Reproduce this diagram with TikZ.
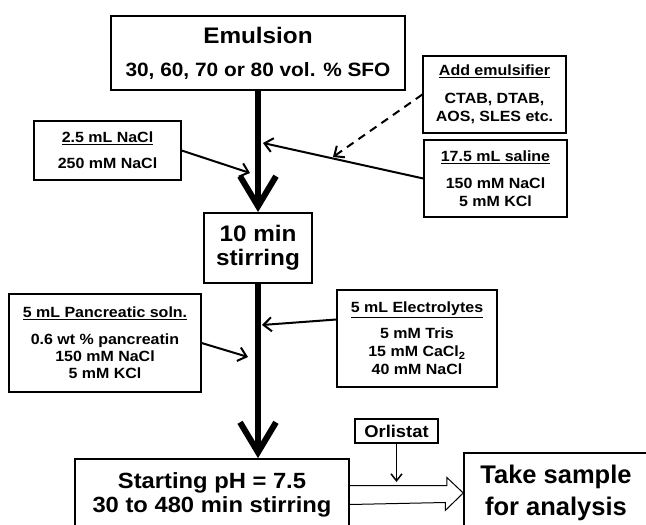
\documentclass[tikz,border=0pt]{standalone}
\usepackage{fontspec}
\setmainfont{Liberation Sans}[FakeStretch=1.08]
\newfontfamily\takefont{Liberation Sans}
\usetikzlibrary{arrows.meta}
\newcommand\smallsz{\fontsize{14.8}{18}\selectfont}

\begin{document}
\begin{tikzpicture}[x=1pt, y=-1pt,
        box/.style={draw, line width=1.3pt, align=center, inner sep=0pt, font=\smallsz\bfseries},
        bigbox/.style={draw, line width=2pt, align=center, inner sep=0pt},
        mainflow/.style={line width=6pt, -{Straight Barb[length=30pt, width=36pt]}},
        feed/.style={line width=2pt, -{Straight Barb[length=8pt, width=14pt]}}
    ]
    \useasboundingbox (0,0) rectangle (646,525);
    \clip (0,0) rectangle (646,525);

    % Các hộp
    \node[bigbox, minimum width=294pt, minimum height=74pt, font=\fontsize{19.3}{24}\selectfont\bfseries] (emul) at (258,53)
        {{\fontsize{22.5}{26}\selectfont Emulsion}\\[9pt]30, 60, 70 or 80 vol. \% SFO};
    \node[box, minimum width=147pt, minimum height=59pt] (nacl) at (107.5,150.5)
        {\underline{2.5 mL NaCl}\\[8pt]250 mM NaCl};
    \node[box, minimum width=143pt, minimum height=77pt] (emsf) at (494.5,94.5)
        {\underline{Add emulsifier}\\[10pt]CTAB, DTAB,\\AOS, SLES etc.};
    \node[box, minimum width=143pt, minimum height=77pt] (saline) at (495.5,178.5)
        {\underline{17.5 mL saline}\\[9pt]150 mM NaCl\\5 mM KCl};
    \node[bigbox, minimum width=108pt, minimum height=70pt, font=\fontsize{22.5}{24}\selectfont\bfseries] (stir) at (258,248)
        {10 min\\stirring};
    \node[box, minimum width=192pt, minimum height=98pt, font=\fontsize{14.8}{17}\selectfont\bfseries] (panc) at (105,343)
        {\underline{5 mL Pancreatic soln.}\\[10pt]0.6 wt \% pancreatin\\150 mM NaCl\\5 mM KCl};
    \node[box, minimum width=160pt, minimum height=97pt] (elec) at (417,338.5)
        {\underline{5 mL Electrolytes}\\[8pt]5 mM Tris\\15 mM CaCl\textsubscript{2}\\40 mM NaCl};
    \node[box, minimum width=83pt, minimum height=24pt, font=\fontsize{17}{20}\selectfont\bfseries] (orli) at (396.5,431)
        {Orlistat};
    \node[bigbox, line width=1.7pt, minimum width=274pt, minimum height=72pt, font=\fontsize{22}{24}\selectfont\bfseries] (start) at (212,495)
        {Starting pH = 7.5\\30 to 480 min stirring};
    \node[bigbox, line width=1.5pt, minimum width=184pt, minimum height=80pt, font=\takefont\fontsize{25.5}{32}\selectfont\bfseries] (take) at (556,493)
        {Take sample\\for analysis};

    % Các điểm nối trên trục chính
    \coordinate (j1) at (250,173);
    \coordinate (j2) at (263,143);
    \coordinate (j3) at (333,157);
    \coordinate (j4) at (248,357);
    \coordinate (j5) at (262,325);
    \coordinate (j6) at (396.5,482);

    % Các mũi tên
    \draw[mainflow] (emul) -- (stir);
    \draw[mainflow] (stir) -- (stir.south |- start.north);
    \draw[feed] (nacl.east) -- (j1);
    \draw[feed] (saline.west) -- (j2);
    \draw[feed, dash pattern=on 8pt off 6pt] (emsf.west) -- (j3);
    \draw[feed] (panc.east) -- (j4);
    \draw[feed] ([yshift=19pt]elec.west) -- (j5);
    \draw[line width=1.5pt, -{Straight Barb[length=7pt, width=11pt]}] (orli) -- (j6);
    \draw[line width=1pt, line join=miter] ([yshift=9.5pt]start.east) -- ++(97,0) -- ++(0,-8) -- (take.west)
        -- ++(-18,17.5) -- ++(0,-8) -- ([yshift=-9.5pt]start.east);
\end{tikzpicture}
\end{document}
